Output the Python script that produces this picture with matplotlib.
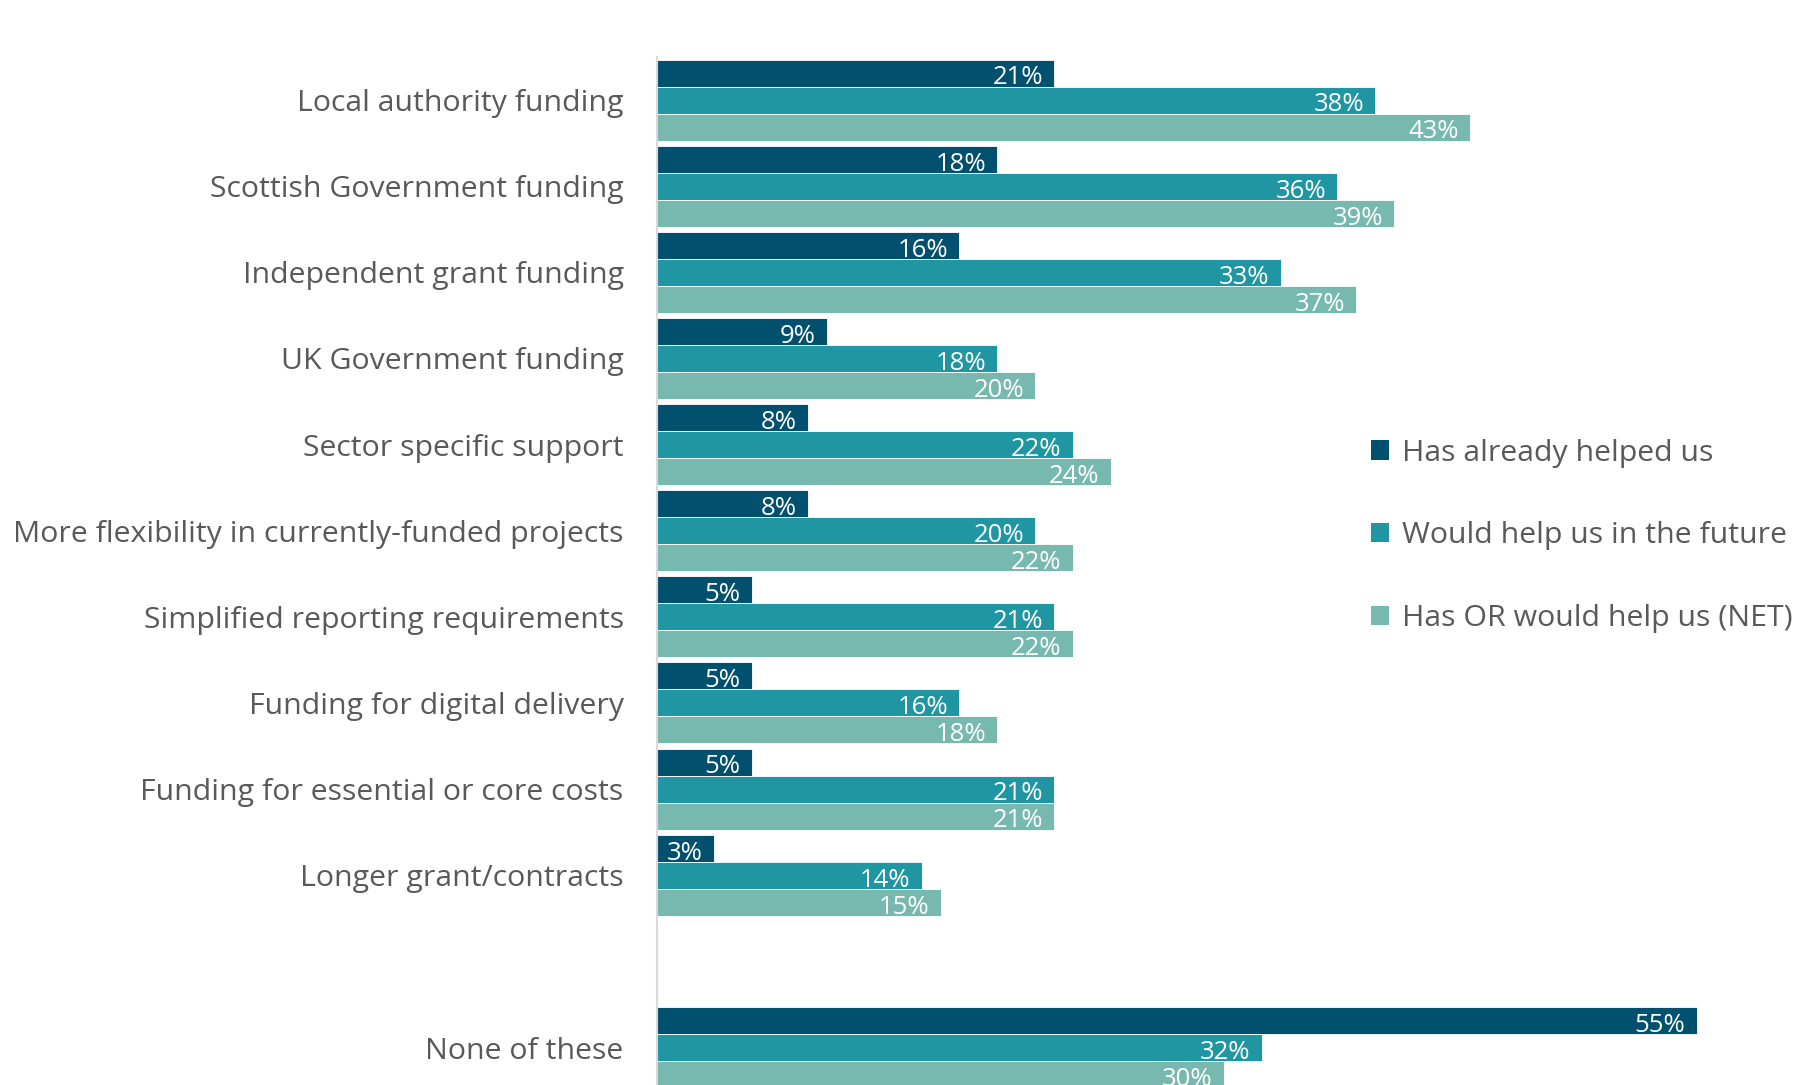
import matplotlib
matplotlib.use('Agg')
import matplotlib.pyplot as plt
from matplotlib.patches import Patch
import numpy as np

categories = [
    'Local authority funding',
    'Scottish Government funding',
    'Independent grant funding',
    'UK Government funding',
    'Sector specific support',
    'More flexibility in currently-funded projects',
    'Simplified reporting requirements',
    'Funding for digital delivery',
    'Funding for essential or core costs',
    'Longer grant/contracts',
    'None of these',
]
already = [21, 18, 16, 9, 8, 8, 5, 5, 5, 3, 55]
future = [38, 36, 33, 18, 22, 20, 21, 16, 21, 14, 32]
net = [43, 39, 37, 20, 24, 22, 22, 18, 21, 15, 30]
series_names = ['Has already helped us', 'Would help us in the future', 'Has OR would help us (NET)']
colors = ['#00506E', '#2196A3', '#77B9AE']
text_grey = '#595959'

plt.rcParams['font.family'] = ['Open Sans', 'DejaVu Sans']

W, H = 1801, 1085
fig = plt.figure(figsize=(W / 100, H / 100), dpi=100)
left_px = 657
ax = fig.add_axes([left_px / W, 0, 1 - left_px / W, 1])

# one blank slot before "None of these"
pos = np.arange(len(categories), dtype=float)
pos[-1] += 1

unit_px = 86.14
bar_h = 27 / unit_px
offsets = [-bar_h, 0, bar_h]

for vals, off, col, name in zip([already, future, net], offsets, colors, series_names):
    bars = ax.barh(pos + off, vals, height=bar_h, color=col, edgecolor='white',
                   linewidth=0.6, label=name)
    for b, v in zip(bars, vals):
        ax.annotate(f'{v}%', (b.get_width(), b.get_y() + b.get_height() / 2),
                    xytext=(-8, -3.5), textcoords='offset points',
                    ha='right', va='center', color='white', fontsize=18.5)

px_per_pct = 18.9
ax.set_xlim(0, (W - left_px) / px_per_pct)
ax.set_ylim((H - 100) / unit_px, -100 / unit_px)

ax.set_yticks(pos)
ax.set_yticklabels(categories, fontsize=21.8, color=text_grey)
ax.tick_params(axis='y', length=0, pad=24)
ax.set_xticks([])

for s in ['top', 'right', 'bottom']:
    ax.spines[s].set_visible(False)
ax.spines['left'].set_color('#D9D9D9')
ax.spines['left'].set_linewidth(1.5)
ax.spines['left'].set_bounds(-0.5, (H - 100) / unit_px)

handles = [Patch(facecolor=c, edgecolor='none') for c in colors]
fig.legend(handles, series_names, loc='center left', bbox_to_anchor=(1344 / W, 1 - 536 / H),
           frameon=False, fontsize=21.8, labelcolor=text_grey, labelspacing=1.78,
           handlelength=0.6, handleheight=0.6, handletextpad=0.4)

fig.savefig('out.png', dpi=100)
